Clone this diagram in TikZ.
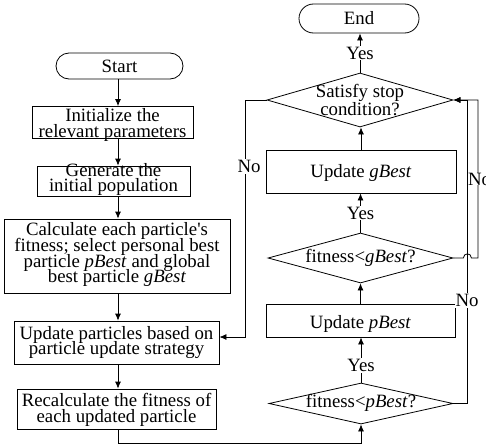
\documentclass[tikz,border=0pt]{standalone}
\usepackage{fontspec}
\setmainfont{Liberation Serif}
\usetikzlibrary{arrows.meta,shapes.geometric,shapes.misc,calc}
\newcommand\diafont{\fontsize{18.8}{15.7}\selectfont\lineskiplimit=-30pt\relax}
\newcommand\diafontwide{\fontsize{18.8}{18}\selectfont\lineskiplimit=-30pt\relax}
\begin{document}
\begin{tikzpicture}[x=1pt,y=-1pt,
  every node/.style={font=\diafont, inner sep=0pt, align=center},
  proc/.style={draw, line width=0.8pt, rectangle},
  term/.style={draw, line width=0.8pt, rounded rectangle},
  dia/.style={draw, line width=0.8pt, diamond},
  lbl/.style={fill=white, inner sep=1pt},
  conn/.style={line width=0.8pt, -{Latex[length=7pt,width=6pt]}}]
\fill[white] (0,0) rectangle (486,447);
\useasboundingbox (0,0) rectangle (486,447);
\coordinate (col) at (118,0);
\coordinate (lx) at (245,0);
\coordinate (px) at (467,0);
\coordinate (rx) at (478,0);
% left column
\node[term, minimum width=127pt, minimum height=26pt] (start) at (119.5,66) {Start};
\node[proc, minimum width=161pt, minimum height=32pt] (init) at (112.5,122.5) {};
\node (initT) at (112.5,125.2) {Initialize the\\relevant parameters};
\node[proc, minimum width=153pt, minimum height=30pt] (gen) at (113.5,181) {};
\node (genT) at (113.5,179.5) {Generate the\\initial population};
\node[proc, minimum width=226pt, minimum height=74pt] (calc) at (117,256) {};
\node (calcT) at (117,254.9) {Calculate each particle\textquotesingle s\\fitness; select personal best\\particle \textit{pBest} and global\\best particle \textit{gBest}};
\node[proc, minimum width=205pt, minimum height=43pt] (upd) at (116.5,342.5) {};
\node (updT) at (116.5,342.5) {Update particles based on\\particle update strategy};
\node[proc, minimum width=199pt, minimum height=40pt] (recalc) at (116.5,409) {};
\node (recalcT) at (116.5,410.2) {Recalculate the fitness of\\each updated particle};
% right column
\node[term, minimum width=120pt, minimum height=29pt] (end) at (359,18.5) {End};
\node[dia, minimum width=186pt, minimum height=54pt] (sat) at (360,100) {};
\node[font=\diafontwide] (satT) at (sat.center) {Satisfy stop\\condition?};
\node[proc, minimum width=190pt, minimum height=43pt] (updg) at (361,171.5) {};
\node (updgT) at (361,173) {Update \textit{gBest}};
\node[dia, minimum width=185pt, minimum height=50pt] (fg) at (360.5,258) {};
\node (fgT) at (360.5,257.6) {fitness<\textit{gBest}?};
\node[proc, minimum width=189pt, minimum height=33pt] (updp) at (360.5,320.5) {};
\node (updpT) at (360.5,323.5) {Update \textit{pBest}};
\node[dia, minimum width=184pt, minimum height=41pt] (fp) at (361,403.5) {};
\node (fpT) at (361,402.5) {fitness<\textit{pBest}?};
\coordinate (updin) at ($(upd.east)+(0,-5.5)$);
% left connectors
\draw[conn] (start.south -| col) -- (init.north -| col);
\draw[conn] (init.south -| col) -- (gen.north -| col);
\draw[conn] (gen.south -| col) -- (calc.north -| col);
\draw[conn] (calc.south -| col) -- (upd.north -| col);
\draw[conn] (upd.south -| col) -- (recalc.north -| col);
\draw[conn] (recalc.south -| col) -- ++(0,13.5) -| (fp.south);
% right connectors
\draw[conn] (sat.north) -- node[lbl]{Yes} (sat.north |- end.south);
\draw[conn] (updg.north) -- (updg.north |- sat.south);
\draw[conn] (fg.north) -- node[lbl]{Yes} (fg.north |- updg.south);
\draw[conn] (updp.north) -- (updp.north |- fg.south);
\draw[conn] (fp.north) -- node[lbl,pos=0.38]{Yes} (fp.north |- updp.south);
\draw[conn] (sat.west) -- (sat.west -| lx) -- node[lbl,pos=0.28,xshift=4pt]{No} (updin -| lx) -- (updin);
\draw[conn] (fg.east) -- ++(10,0) .. controls +(0,-5.5) and +(0,-5.5) .. ++(8,0) -- (rx |- fg.east) -- node[fill=white,inner sep=0pt,xshift=1.5pt]{No} (rx |- sat.east) -- (sat.east);
\draw[conn] (fp.east) -- (px |- fp.east) -- node[lbl,pos=0.34]{No} (px |- sat.east) -- (sat.east);
\end{tikzpicture}
\end{document}
